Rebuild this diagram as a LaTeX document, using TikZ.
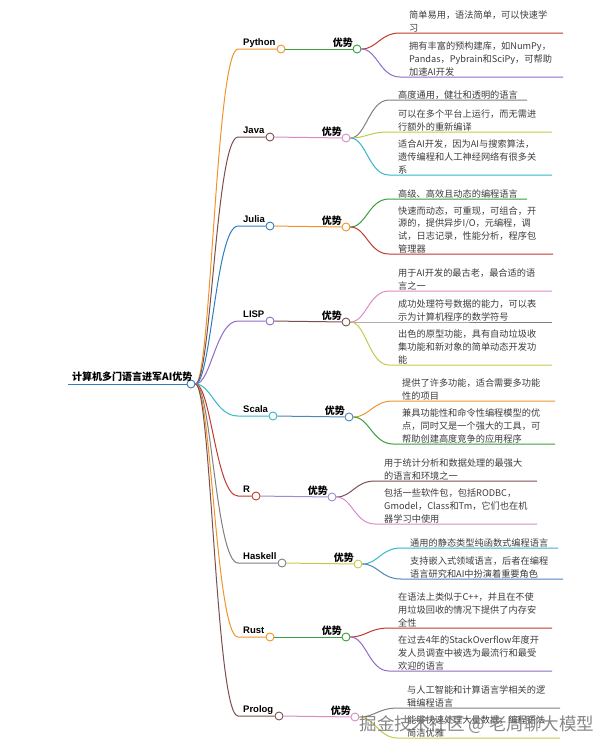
\documentclass[tikz,border=0pt]{standalone}
\usepackage{fontspec}
\setmainfont{Liberation Sans}
\newfontfamily\cjk{Noto Sans CJK SC}
\definecolor{cOrange}{HTML}{F0932B}
\definecolor{cGreen}{HTML}{3A9E3A}
\definecolor{cRed}{HTML}{C0392B}
\definecolor{cPurple}{HTML}{8E6BC8}
\definecolor{cBrown}{HTML}{7B4F4F}
\definecolor{cPink}{HTML}{D98BC9}
\definecolor{cGrey}{HTML}{808080}
\definecolor{cOlive}{HTML}{C5C94A}
\definecolor{cCyan}{HTML}{35B6C9}
\definecolor{cBlue}{HTML}{2F7DC0}
\definecolor{cSteel}{HTML}{4F86B8}
\definecolor{cLav}{HTML}{A08BD0}
\definecolor{cText}{HTML}{3C3C3C}
\tikzset{
  mmdot/.style={circle, draw=#1, fill=white, line width=0.9pt, minimum size=8pt, inner sep=0pt},
  conn/.style={line width=1pt},
  langlbl/.style={font=\bfseries\fontsize{9.5}{11}\selectfont, inner sep=0pt},
  advlbl/.style={font=\cjk\bfseries\fontsize{10}{12}\selectfont, inner sep=0pt},
  leaftxt/.style={font=\cjk\fontsize{9.2}{12.7}\selectfont, text=cText, align=left, inner sep=0pt},
  roottxt/.style={font=\cjk\bfseries\fontsize{10}{12}\selectfont, inner sep=0pt},
}
% #1 id, #2 label, #3 circle x, #4 y, #5 colour
\newcommand\mmbranch[5]{%
  \coordinate (#1s) at (238,#4);
  \node[mmdot=#5] (#1c) at (#3,#4) {};
  \node[langlbl, anchor=base west] (#1t) at (243,#4-3.5) {#2};
  \draw[conn,#5] (rootc) .. controls +(20,0) and +(-22,0) .. (#1s) -- (#1c);
}
% #1 id, #2 circle x, #3 y, #4 colour
\newcommand\mmadv[4]{%
  \node[mmdot=#4] (#1a) at (#2,#3) {};
  \node[advlbl, anchor=base east] (#1l) at (#2-4,#3-2.5) {优势};
  \draw[conn,#4] (#1c) -- (#1a);
}
% #1 from node, #2 id, #3 underline y, #4 text x, #5 end x, #6 colour, #7 text
\newcommand\mmleaf[7]{%
  \coordinate (#2p) at (#4-9,#3);
  \coordinate (#2q) at (#5,#3);
  \draw[conn,#6] (#1) .. controls +(20,0) and +(-20,0) .. (#2p) -- (#2q);
  \node[leaftxt, anchor=south west] (#2) at (#4,#3-0.8) {#7};
}
\begin{document}
\begin{tikzpicture}[x=1pt,y=-1pt]
\useasboundingbox (0,0) rectangle (615,755);
% root
\node[mmdot=cBlue] (rootc) at (191,384) {};
\node[roottxt, anchor=base west] (roott) at (72,380.5) {计算机多门语言进军AI优势};
\coordinate (rootu) at (68,384);
\draw[conn,cBlue] (rootu) -- (rootc);

% Python
\mmbranch{py}{Python}{281}{49}{cOrange}
\mmadv{py}{357}{49}{cGreen}
\mmleaf{pya}{pyl1}{33}{409}{563}{cRed}{简单易用，语法简单，可以快速学\\习}
\mmleaf{pya}{pyl2}{77}{409}{563}{cPurple}{拥有丰富的预构建库，如NumPy，\\Pandas，Pybrain和SciPy，可帮助\\加速AI开发}

% Java
\mmbranch{ja}{Java}{270}{137}{cBrown}
\mmadv{ja}{346}{138}{cPink}
\mmleaf{jaa}{jal1}{100}{398}{527}{cGrey}{高度通用，健壮和透明的语言}
\mmleaf{jaa}{jal2}{132}{398}{552}{cOlive}{可以在多个平台上运行，而无需进\\行额外的重新编译}
\mmleaf{jaa}{jal3}{175}{398}{552}{cCyan}{适合AI开发，因为AI与搜索算法，\\遗传编程和人工神经网络有很多关\\系}

% Julia
\mmbranch{ju}{Julia}{270}{226}{cBlue}
\mmadv{ju}{346}{227}{cOrange}
\mmleaf{jua}{jul1}{199}{398}{527}{cGreen}{高级、高效且动态的编程语言}
\mmleaf{jua}{jul2}{254}{398}{553}{cRed}{快速而动态，可重现，可组合，开\\源的，提供异步I/O，元编程，调\\试，日志记录，性能分析，程序包\\管理器}

% LISP
\mmbranch{li}{LISP}{270}{321}{cPurple}
\mmadv{li}{346}{322}{cBrown}
\mmleaf{lia}{lil1}{291}{398}{552}{cPink}{用于AI开发的最古老，最合适的语\\言之一}
\mmleaf{lia}{lil2}{322}{398}{552}{cGrey}{成功处理符号数据的能力，可以表\\示为计算机程序的数学符号}
\mmleaf{lia}{lil3}{365}{398}{552}{cOlive}{出色的原型功能，具有自动垃圾收\\集功能和新对象的简单动态开发功\\能}

% Scala
\mmbranch{sc}{Scala}{273}{416}{cCyan}
\mmadv{sc}{349}{417}{cSteel}
\mmleaf{sca}{scl1}{401}{402}{555}{cOrange}{提供了许多功能，适合需要多功能\\性的项目}
\mmleaf{sca}{scl2}{444}{402}{555}{cGreen}{兼具功能性和命令性编程模型的优\\点，同时又是一个强大的工具，可\\帮助创建高度竞争的应用程序}

% R
\mmbranch{rr}{R}{256}{496}{cRed}
\mmadv{rr}{332}{497}{cLav}
\mmleaf{rra}{rrl1}{481}{384}{537}{cBrown}{用于统计分析和数据处理的最强大\\的语言和环境之一}
\mmleaf{rra}{rrl2}{524}{384}{537}{cPink}{包括一些软件包，包括RODBC，\\Gmodel，Class和Tm，它们也在机\\器学习中使用}

% Haskell
\mmbranch{ha}{Haskell}{282}{563}{cGrey}
\mmadv{ha}{358}{564}{cOlive}
\mmleaf{haa}{hal1}{548}{410}{558}{cCyan}{通用的静态类型纯函数式编程语言}
\mmleaf{haa}{hal2}{579}{410}{563}{cSteel}{支持嵌入式领域语言，后者在编程\\语言研究和AI中扮演着重要角色}

% Rust
\mmbranch{ru}{Rust}{270}{637}{cOrange}
\mmadv{ru}{346}{637}{cGreen}
\mmleaf{rua}{rul1}{628}{398}{552}{cRed}{在语法上类似于C++，并且在不使\\用垃圾回收的情况下提供了内存安\\全性}
\mmleaf{rua}{rul2}{671}{398}{552}{cPurple}{在过去4年的StackOverflow年度开\\发人员调查中被选为最流行和最受\\欢迎的语言}

% Prolog
\mmbranch{pr}{Prolog}{279}{716}{cBrown}
\mmadv{pr}{355}{717}{cPink}
\mmleaf{pra}{prl1}{708}{407}{560}{cGrey}{与人工智能和计算语言学相关的逻\\辑编程语言}
\mmleaf{pra}{prl2}{738}{407}{560}{cOlive}{能够快速处理大量数据，编程语法\\简洁优雅}

% watermark
\node[font=\cjk\fontsize{17.5}{18}\selectfont, text=gray!90!black, opacity=0.85, inner sep=0pt] (wm) at (477,725) {掘金技术社区 @ 老周聊大模型};
\end{tikzpicture}
\end{document}
